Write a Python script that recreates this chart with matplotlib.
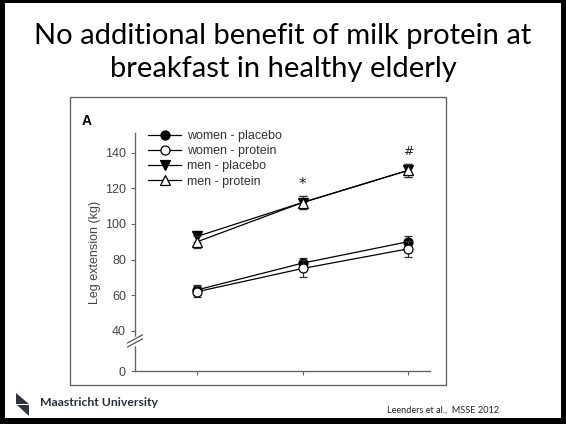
import matplotlib
matplotlib.use('Agg')
import matplotlib.pyplot as plt
from matplotlib.patches import Rectangle, Polygon
import numpy as np

# visits (x positions) and group means / SE, leg extension in kg
visits = [1, 2, 3]
women_placebo = [63, 78, 90]
women_placebo_err = [3, 3, 3]
women_protein = [62, 75, 86]
women_protein_err = [3, 4.5, 4.5]
men_placebo = [93, 112, 130]
men_placebo_err = [3, 3.5, 3.5]
men_protein = [90, 112, 130]
men_protein_err = [3.5, 3.5, 3.5]
y_ticks = [0, 40, 60, 80, 100, 120, 140]

W, H = 566, 424
fig = plt.figure(figsize=(W / 100, H / 100), dpi=100)
fig.patch.set_facecolor('black')
fig.patches.append(Rectangle((5 / W, 6 / H), 556 / W, 415 / H,
                             transform=fig.transFigure, facecolor='white',
                             edgecolor='none', zorder=-10))

# slide title
fig.text(0.5, 1 - 36 / H, 'No additional benefit of milk protein at',
         ha='center', va='center', fontsize=21, family='Lato')
fig.text(0.5, 1 - 69 / H, 'breakfast in healthy elderly',
         ha='center', va='center', fontsize=21, family='Lato')

# frame around the figure panel
fig.patches.append(Rectangle((70 / W, 1 - 385 / H), 376 / W, 288 / H,
                             transform=fig.transFigure, facecolor='none',
                             edgecolor='#666666', linewidth=1.0, zorder=-5))

ax = fig.add_axes([135 / W, 1 - 371 / H, 295 / W, 238 / H])
ax.patch.set_alpha(0)


# compressed region below 40 for the axis break
def fwd(y):
    y = np.asarray(y, dtype=float)
    return np.where(y >= 40, y, 40 - (40 - y) * 0.5625)


def inv(u):
    u = np.asarray(u, dtype=float)
    return np.where(u >= 40, u, 40 - (40 - u) / 0.5625)


ax.set_yscale('function', functions=(fwd, inv))
ax.set_ylim(0, 151)
ax.set_xlim(0.41, 3.21)

txt = '#444444'
common = dict(color='black', linewidth=0.9, capsize=3, elinewidth=0.8,
              capthick=0.8, markersize=6.5, markeredgewidth=0.9,
              ecolor='#333333')
series = [
    (women_placebo, women_placebo_err, 'o', 'black', 4, 'women - placebo'),
    (women_protein, women_protein_err, 'o', 'white', 5, 'women - protein'),
    (men_placebo, men_placebo_err, 'v', 'black', 4, 'men - placebo'),
    (men_protein, men_protein_err, '^', 'white', 5, 'men - protein'),
]
handles = []
for vals, err, mk, fc, z, lab in series:
    cont = ax.errorbar(visits, vals, yerr=err, marker=mk, markerfacecolor=fc,
                       markeredgecolor='black', zorder=z, label=lab, **common)
    handles.append(cont.lines[0])

ax.text(2, 122, '*', ha='center', va='center', fontsize=11, color='#222222')
ax.text(3, 140.5, '#', ha='center', va='center', fontsize=9, color='#222222')

for s in ['top', 'right']:
    ax.spines[s].set_visible(False)
for s in ['left', 'bottom']:
    ax.spines[s].set_color('#666666')
    ax.spines[s].set_linewidth(1.0)

ax.set_yticks(y_ticks)
ax.set_xticks(visits)
ax.set_xticklabels([])
ax.tick_params(direction='out', length=3, width=0.8, color='#666666',
               labelsize=9, labelcolor=txt)
for lab in ax.get_yticklabels():
    lab.set_family('Liberation Sans')

ax.set_ylabel('Leg extension (kg)', fontsize=9, color=txt,
              family='Liberation Sans', labelpad=3)

# break marks on the y axis
bt = ax.get_yaxis_transform()
ax.plot([0, 0], [27, 33], transform=bt, color='white', linewidth=2.5,
        clip_on=False, zorder=6)
for yc in (28, 32):
    ax.plot([-0.025, 0.025], [yc - 4, yc + 4], transform=bt,
            color='#555555', linewidth=0.9, clip_on=False, zorder=7)

leg = ax.legend(handles, [s[-1] for s in series], loc='upper left',
                frameon=False, bbox_to_anchor=(142 / W, 1 - 124 / H),
                bbox_transform=fig.transFigure, handlelength=2.6,
                handletextpad=0.5, labelspacing=0.25, borderpad=0,
                prop={'family': 'Liberation Sans', 'size': 9})
for t in leg.get_texts():
    t.set_color('#333333')

fig.text(82 / W, 1 - 121 / H, 'A', fontsize=10, fontweight='bold',
         family='Liberation Sans', va='center', ha='left')

# footer: logo, university name, reference
fig.patches.append(Polygon([(16 / W, 1 - 393 / H), (16 / W, 1 - 404 / H),
                            (29 / W, 1 - 404 / H)], closed=True,
                           transform=fig.transFigure, facecolor='#2f3440'))
fig.patches.append(Polygon([(29 / W, 1 - 405 / H), (29 / W, 1 - 416 / H),
                            (17 / W, 1 - 405 / H)], closed=True,
                           transform=fig.transFigure, facecolor='#2f3440'))
fig.text(40 / W, 1 - 403 / H, 'Maastricht University', fontsize=8.8,
         fontweight='bold', family='Lato', color='#2b2f3a',
         ha='left', va='center')
fig.text(387 / W, 1 - 410 / H, 'Leenders et al.,  MSSE 2012', fontsize=6.6,
         family='Lato', color='#222222', ha='left', va='center')

fig.savefig('out.png', dpi=100, facecolor=fig.get_facecolor())
